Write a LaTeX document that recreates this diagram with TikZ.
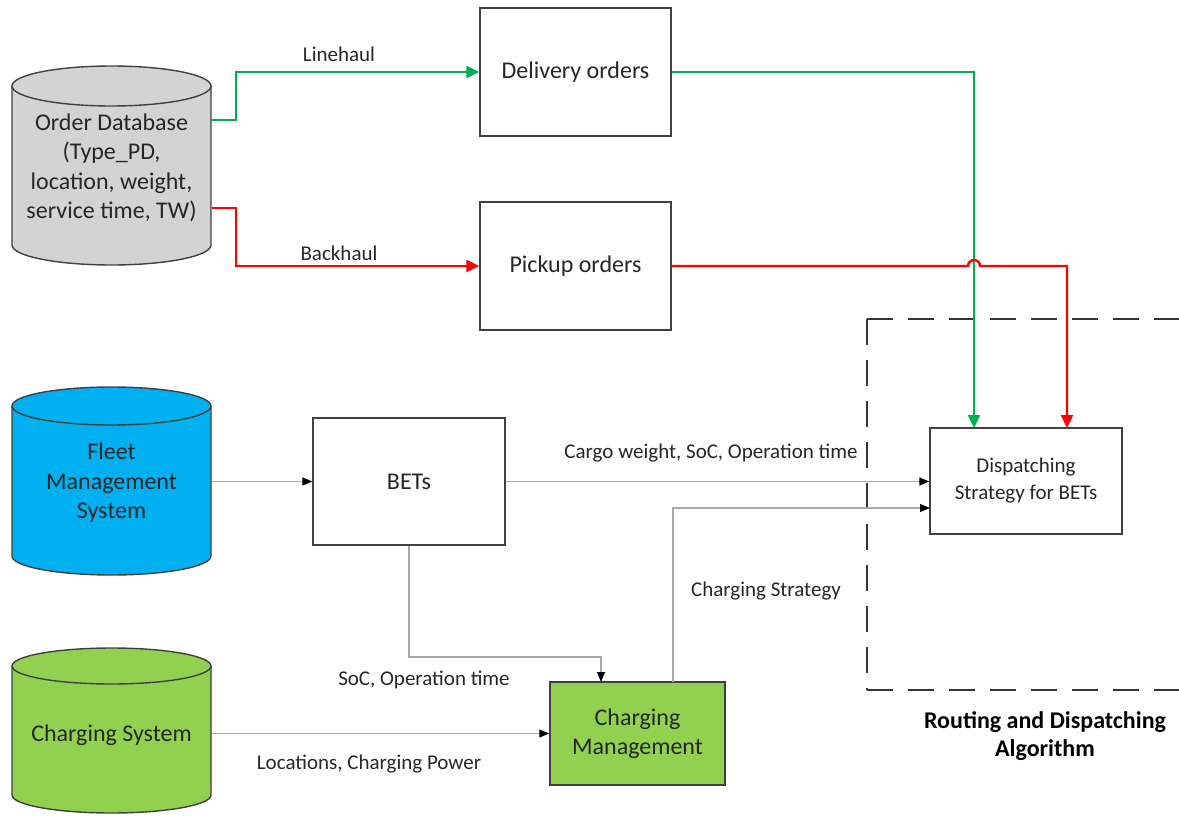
\documentclass[tikz,border=0pt]{standalone}
\usepackage{fontspec}
\setmainfont{Carlito}
\usetikzlibrary{arrows.meta}

\definecolor{dbgray}{HTML}{D3D3D3}
\definecolor{fleetblue}{HTML}{00B0F0}
\definecolor{chggreen}{HTML}{92D050}
\definecolor{linegreen}{HTML}{00B050}
\definecolor{linered}{HTML}{FF0000}
\definecolor{edge}{HTML}{404040}
\definecolor{wire}{HTML}{A8A8A8}
\definecolor{ink}{HTML}{262626}

% vertical drum: left x, right x, top-ellipse centre y, bottom-ellipse centre y, half height of ellipse, fill
\newcommand\drumcyl[6]{%
  \pgfmathsetmacro\drumrx{(#2-#1)/2}%
  \filldraw[fill=#6, draw=edge, line width=1.4pt]
    (#1,#3) -- (#1,#4)
    arc[start angle=180, end angle=360, x radius=\drumrx pt, y radius=#5pt]
    -- (#2,#3)
    arc[start angle=0, end angle=180, x radius=\drumrx pt, y radius=#5pt]
    -- cycle;
  \draw[draw=edge, line width=1.4pt] (#1,#3)
    arc[start angle=180, end angle=360, x radius=\drumrx pt, y radius=#5pt];
}

\tikzset{
  bigtext/.style={font=\fontsize{24}{29.5}\selectfont, text=ink, align=center},
  smalltext/.style={font=\fontsize{21}{27}\selectfont, text=ink, align=center},
  box/.style={draw=edge, line width=1.4pt, fill=white, inner sep=0pt, bigtext},
  wireflow/.style={draw=wire, line width=1.1pt, -{Triangle[length=10pt,width=8pt,color=black]}},
  greenflow/.style={draw=linegreen, line width=2.4pt, -{Triangle[length=13pt,width=12pt]}},
  redflow/.style={draw=linered, line width=2.4pt, -{Triangle[length=13pt,width=12pt]}},
  algframe/.style={draw=edge!80!black, line width=2pt, dash pattern=on 26pt off 15pt},
}

\begin{document}
\begin{tikzpicture}[x=1pt, y=-1pt]
\useasboundingbox (0,0) rectangle (1179,816);

% data sources
\drumcyl{12}{211}{86}{245}{20}{dbgray}
\drumcyl{12}{211}{406}{556}{19}{fleetblue}
\drumcyl{12}{211}{666}{795}{18}{chggreen}

\node[bigtext] (orderdb) at (111.5,168) {Order Database\\(Type\_PD,\\location, weight,\\service time, TW)};
\node[bigtext] (fleet) at (111.5,483) {Fleet\\Management\\System};
\node[bigtext] (chgsys) at (111.5,735) {Charging System};

\coordinate (odbline) at (211.5,120);
\coordinate (odbback) at (211.5,208);
\coordinate (fleetout) at (211.5,481.5);
\coordinate (chgout) at (211.5,733.5);

% processing boxes
\node[box, minimum width=191pt, minimum height=128pt] (deliv) at (575.5,72) {Delivery orders};
\node[box, minimum width=191pt, minimum height=128pt] (pick) at (575.5,266) {Pickup orders};
\node[box, minimum width=192pt, minimum height=127pt] (bets) at (409,481.5) {BETs};
\node[box, fill=chggreen, minimum width=175pt, minimum height=103pt] (chgmgmt) at (637.5,733.5) {Charging\\Management};
\node[box, minimum width=192pt, minimum height=106pt, font=\fontsize{21}{27}\selectfont] (disp) at (1026,481) {Dispatching\\Strategy for BETs};

% routing and dispatching frame
\coordinate (frtl) at (867,319);
\coordinate (frbl) at (867,690);
\coordinate (frtr) at (1195,319);
\coordinate (frbr) at (1195,690);
\draw[algframe] (frtl) -- (frtr);
\draw[algframe] (frtl) -- (frbl);
\draw[algframe] (frbl) -- (frbr);
\node[font=\bfseries\fontsize{24}{28}\selectfont, text=black, align=center] (alglabel) at (1045,736) {Routing and Dispatching\\Algorithm};

% order flows
\draw[greenflow] (odbline) -- (236,120) |- (deliv.west);
\draw[redflow] (odbback) -- (236,208) |- (pick.west);
\node[smalltext] (linehaul) at (339,54) {Linehaul};
\node[smalltext] (backhaul) at (339,253) {Backhaul};

\draw[greenflow] (deliv.east) -| (974,428);
\draw[redflow] (pick.east) -- (968,266)
  arc[start angle=180, end angle=0, radius=6pt] -- (1067,266) -- (1067,428);

% vehicle and charging information flows
\draw[wireflow] (fleetout) -- (bets.west);
\draw[wireflow] (bets.east) -- (disp.west |- bets.east);
\node[smalltext] (cargo) at (711,453) {Cargo weight, SoC, Operation time};

\draw[wireflow] (bets.south) -- (409,657) -| (601,682);
\node[smalltext] (soc) at (424,680) {SoC, Operation time};

\draw[wireflow] (chgout) -- (chgmgmt.west);
\node[smalltext] (locs) at (369,764) {Locations, Charging Power};

\draw[wireflow] (673,682) |- (930,508);
\node[smalltext] (chgstrat) at (766,591) {Charging Strategy};
\end{tikzpicture}
\end{document}
